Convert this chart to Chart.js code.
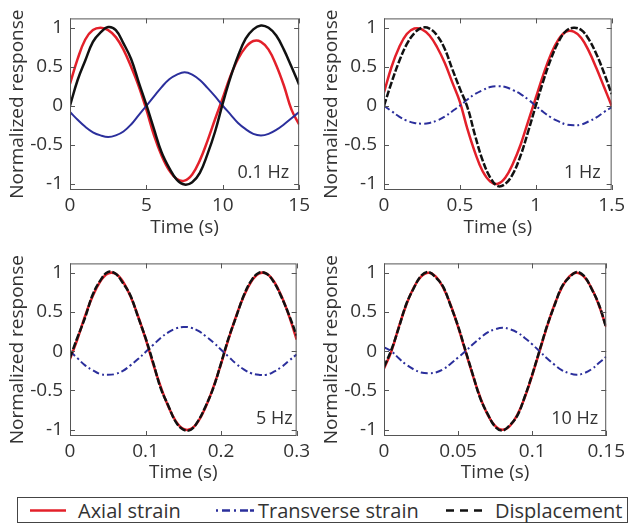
<!DOCTYPE html>
<html>
<head>
<meta charset="utf-8">
<script src="https://cdn.jsdelivr.net/npm/chart.js@4.4.0/dist/chart.umd.min.js"></script>
<style>
body { margin: 0; background: #fff; width: 629px; height: 527px; position: relative; overflow: hidden; font-family: "Open Sans", sans-serif; color: #333; }
canvas { position: absolute; }
#legend { position: absolute; left: 17px; top: 497px; width: 609px; height: 24px; border: 1px solid #444; }
#legend svg, #legend span { position: absolute; }
#legend span { font-size: 20px; top: 0; line-height: 25px; }
</style>
</head>
<body>
<canvas id="c1" width="314" height="245" style="left:0;top:0"></canvas>
<canvas id="c2" width="315" height="245" style="left:314px;top:0"></canvas>
<canvas id="c3" width="314" height="245" style="left:0;top:245px"></canvas>
<canvas id="c4" width="315" height="245" style="left:314px;top:245px"></canvas>

<div id="legend">
  <svg width="42" height="24" style="left:10px;top:0"><line x1="2" y1="12.5" x2="38" y2="12.5" stroke="#e3202a" stroke-width="2.5"/></svg>
  <span style="left:60px">Axial strain</span>
  <svg width="42" height="24" style="left:196px;top:0"><line x1="2" y1="12.5" x2="40" y2="12.5" stroke="#2b2f9c" stroke-width="2.5" stroke-dasharray="2 4 8 4 2 4 8"/></svg>
  <span style="left:240px">Transverse strain</span>
  <svg width="42" height="24" style="left:426px;top:0"><line x1="2" y1="12.5" x2="39" y2="12.5" stroke="#111" stroke-width="2.5" stroke-dasharray="8 6"/></svg>
  <span style="left:477px">Displacement</span>
</div>

<script>
// 0.1 Hz
const time1 = [0, 0.5, 1, 1.5, 2, 2.5, 3, 3.5, 4, 4.5, 5, 5.5, 6, 6.5, 7, 7.5, 8, 8.5, 9, 9.5, 10, 10.5, 11, 11.5, 12, 12.5, 13, 13.5, 14, 14.5, 15];
const axial1 = [0.28, 0.6, 0.85, 0.97, 1.0, 0.97, 0.88, 0.72, 0.5, 0.25, -0.05, -0.38, -0.64, -0.83, -0.94, -0.96, -0.88, -0.7, -0.45, -0.17, 0.1, 0.38, 0.6, 0.75, 0.83, 0.82, 0.72, 0.52, 0.26, -0.05, -0.24];
const trans1 = [-0.08, -0.18, -0.27, -0.34, -0.38, -0.4, -0.38, -0.33, -0.24, -0.12, 0.0, 0.12, 0.24, 0.34, 0.4, 0.43, 0.4, 0.33, 0.23, 0.12, 0.0, -0.11, -0.22, -0.3, -0.36, -0.38, -0.36, -0.31, -0.24, -0.16, -0.08];
const disp1 = [0.0, 0.33, 0.58, 0.82, 0.94, 1.01, 0.97, 0.8, 0.6, 0.3, 0.01, -0.3, -0.6, -0.8, -0.95, -1.01, -0.98, -0.86, -0.62, -0.33, 0.03, 0.36, 0.64, 0.86, 0.98, 1.03, 1.0, 0.9, 0.72, 0.5, 0.27];
const xTicks1 = [0, 5, 10, 15];

// 1 Hz
const time2 = [0, 0.05, 0.1, 0.15, 0.2, 0.25, 0.3, 0.35, 0.4, 0.45, 0.5, 0.55, 0.6, 0.65, 0.7, 0.75, 0.8, 0.85, 0.9, 0.95, 1.0, 1.05, 1.1, 1.15, 1.2, 1.25, 1.3, 1.35, 1.4, 1.45, 1.5];
const axial2 = [0.17, 0.5, 0.75, 0.92, 0.99, 0.98, 0.9, 0.75, 0.55, 0.3, 0.05, -0.3, -0.6, -0.84, -0.97, -1.0, -0.92, -0.74, -0.5, -0.2, 0.1, 0.4, 0.66, 0.85, 0.95, 0.95, 0.87, 0.7, 0.48, 0.24, 0.0];
const trans2 = [0, -0.07, -0.14, -0.19, -0.22, -0.23, -0.22, -0.19, -0.14, -0.07, 0, 0.08, 0.15, 0.2, 0.24, 0.25, 0.24, 0.2, 0.15, 0.08, 0, -0.08, -0.15, -0.2, -0.24, -0.25, -0.24, -0.2, -0.15, -0.08, -0.02];
const disp2 = [0, 0.3, 0.57, 0.79, 0.93, 1.0, 0.99, 0.9, 0.73, 0.47, 0.22, -0.02, -0.38, -0.7, -0.92, -1.03, -1.0, -0.87, -0.64, -0.33, 0.0, 0.32, 0.6, 0.82, 0.96, 1.0, 0.97, 0.85, 0.66, 0.42, 0.15];
const xTicks2 = [0, 0.5, 1, 1.5];

// 5 Hz
const time3 = [0, 0.01, 0.02, 0.03, 0.04, 0.05, 0.06, 0.07, 0.08, 0.09, 0.1, 0.11, 0.12, 0.13, 0.14, 0.15, 0.16, 0.17, 0.18, 0.19, 0.2, 0.21, 0.22, 0.23, 0.24, 0.25, 0.26, 0.27, 0.28, 0.29, 0.3];
const axial3 = [-0.1, 0.16, 0.45, 0.7, 0.89, 0.99, 0.99, 0.89, 0.7, 0.45, 0.16, -0.16, -0.45, -0.7, -0.89, -0.99, -0.99, -0.89, -0.7, -0.45, -0.16, 0.16, 0.45, 0.7, 0.89, 0.99, 0.99, 0.89, 0.7, 0.45, 0.15];
const trans3 = [0, -0.09, -0.18, -0.24, -0.29, -0.3, -0.29, -0.25, -0.18, -0.1, -0.01, 0.08, 0.17, 0.24, 0.29, 0.31, 0.3, 0.26, 0.19, 0.11, 0.02, -0.07, -0.16, -0.23, -0.28, -0.3, -0.3, -0.26, -0.2, -0.12, -0.04];
const disp3 = [-0.08, 0.18, 0.43, 0.72, 0.9, 1.01, 0.99, 0.87, 0.71, 0.44, 0.17, -0.14, -0.47, -0.69, -0.9, -1.0, -1.0, -0.88, -0.69, -0.46, -0.15, 0.17, 0.44, 0.71, 0.9, 1.0, 0.99, 0.88, 0.69, 0.46, 0.2];
const xTicks3 = [0, 0.1, 0.2, 0.3];

// 10 Hz
const time4 = [0, 0.005, 0.01, 0.015, 0.02, 0.025, 0.03, 0.035, 0.04, 0.045, 0.05, 0.055, 0.06, 0.065, 0.07, 0.075, 0.08, 0.085, 0.09, 0.095, 0.1, 0.105, 0.11, 0.115, 0.12, 0.125, 0.13, 0.135, 0.14, 0.145, 0.15];
const axial4 = [-0.22, 0.0, 0.31, 0.59, 0.81, 0.95, 1.0, 0.95, 0.81, 0.59, 0.31, 0.0, -0.31, -0.59, -0.81, -0.95, -1.0, -0.95, -0.81, -0.59, -0.31, 0.0, 0.31, 0.59, 0.81, 0.95, 1.0, 0.95, 0.81, 0.59, 0.31];
const trans4 = [0.05, 0.0, -0.09, -0.17, -0.23, -0.27, -0.28, -0.27, -0.23, -0.16, -0.08, 0.0, 0.09, 0.17, 0.24, 0.28, 0.3, 0.28, 0.24, 0.17, 0.09, 0.0, -0.09, -0.17, -0.24, -0.28, -0.3, -0.28, -0.23, -0.15, -0.07];
const disp4 = [-0.2, 0.02, 0.3, 0.6, 0.8, 0.96, 1.01, 0.94, 0.82, 0.58, 0.32, 0.01, -0.3, -0.6, -0.8, -0.96, -1.01, -0.94, -0.82, -0.58, -0.3, 0.01, 0.32, 0.58, 0.82, 0.94, 1.01, 0.96, 0.8, 0.6, 0.3];
const xTicks4 = [0, 0.05, 0.1, 0.15];

const yTicks = [-1, -0.5, 0, 0.5, 1];

const red = '#e3202a';
const blue = '#2b2f9c';
const black = '#111';
const font = '"Open Sans", sans-serif';

// matlab-like box with inward ticks and the frequency label
const boxPlugin = {
    id: 'matlabBox',
    afterDatasetsDraw(chart, args, opts) {
        const ctx = chart.ctx;
        const a = chart.chartArea;
        const x = chart.scales.x;
        const y = chart.scales.y;
        ctx.save();
        ctx.strokeStyle = '#555';
        ctx.lineWidth = 1;
        ctx.strokeRect(a.left + 0.5, a.top + 0.5, a.width - 1, a.height - 1);
        ctx.beginPath();
        x.ticks.forEach(function (t) {
            let px = Math.round(x.getPixelForValue(t.value)) + 0.5;
            ctx.moveTo(px, a.bottom); ctx.lineTo(px, a.bottom - 5);
            ctx.moveTo(px, a.top); ctx.lineTo(px, a.top + 5);
        });
        y.ticks.forEach(function (t) {
            let py = Math.round(y.getPixelForValue(t.value)) + 0.5;
            ctx.moveTo(a.left, py); ctx.lineTo(a.left + 5, py);
            ctx.moveTo(a.right, py); ctx.lineTo(a.right - 5, py);
        });
        ctx.stroke();
        ctx.font = '18px ' + font;
        ctx.fillStyle = '#333';
        ctx.textAlign = 'right';
        ctx.textBaseline = 'middle';
        ctx.fillText(opts.label, a.right - opts.labelRight, a.bottom - 17);
        ctx.restore();
    }
};

function makePanel(id, time, axial, trans, disp, xTicks, label, labelRight, topPad, rightPad, xHeight, dashed) {
    const pts = function (vals) { return time.map(function (t, i) { return { x: t, y: vals[i] }; }); };
    return new Chart(document.getElementById(id), {
        type: 'line',
        data: {
            datasets: [
                { label: 'Displacement', data: pts(disp), borderColor: black, borderWidth: 2.5, borderDash: dashed ? [7, 2] : [], order: 0 },
                { label: 'Transverse strain', data: pts(trans), borderColor: blue, borderWidth: 2, borderDash: dashed ? [7, 3, 2, 3] : [], order: 1 },
                { label: 'Axial strain', data: pts(axial), borderColor: red, borderWidth: 2.5, order: 2 }
            ]
        },
        options: {
            responsive: false,
            animation: false,
            devicePixelRatio: 1,
            layout: { padding: { top: topPad, right: rightPad, left: 0, bottom: 0 } },
            elements: { point: { radius: 0 }, line: { tension: 0.4 } },
            plugins: {
                legend: { display: false },
                tooltip: { enabled: false },
                matlabBox: { label: label, labelRight: labelRight }
            },
            scales: {
                x: {
                    type: 'linear',
                    min: xTicks[0],
                    max: xTicks[xTicks.length - 1],
                    afterBuildTicks: function (s) { s.ticks = xTicks.map(function (v) { return { value: v }; }); },
                    afterFit: function (s) { s.height = xHeight; },
                    grid: { display: false, drawTicks: false },
                    border: { display: false },
                    ticks: { color: '#333', font: { family: font, size: 19 }, padding: 4, maxRotation: 0, autoSkip: false, callback: function (v) { return String(v); } },
                    title: { display: true, text: 'Time (s)', color: '#333', font: { family: font, size: 19 }, padding: { top: 0, bottom: 6 } }
                },
                y: {
                    min: -1.08,
                    max: 1.12,
                    afterBuildTicks: function (s) { s.ticks = yTicks.map(function (v) { return { value: v }; }); },
                    afterFit: function (s) { s.width = 70; },
                    grid: { display: false, drawTicks: false },
                    border: { display: false },
                    ticks: { color: '#333', font: { family: font, size: 19 }, padding: 7, callback: function (v) { return String(v); } },
                    title: { display: true, text: 'Normalized response', color: '#333', font: { family: font, size: 19 }, padding: { top: 6, bottom: 0 } }
                }
            }
        },
        plugins: [boxPlugin]
    });
}

makePanel('c1', time1, axial1, trans1, disp1, xTicks1, '0.1 Hz', 10, 8, 14, 55, false);
makePanel('c2', time2, axial2, trans2, disp2, xTicks2, '1 Hz', 11, 8, 16, 55, true);
makePanel('c3', time3, axial3, trans3, disp3, xTicks3, '5 Hz', 4, 10, 14, 54, true);
makePanel('c4', time4, axial4, trans4, disp4, xTicks4, '10 Hz', 8, 10, 16, 54, true);
</script>
</body>
</html>
